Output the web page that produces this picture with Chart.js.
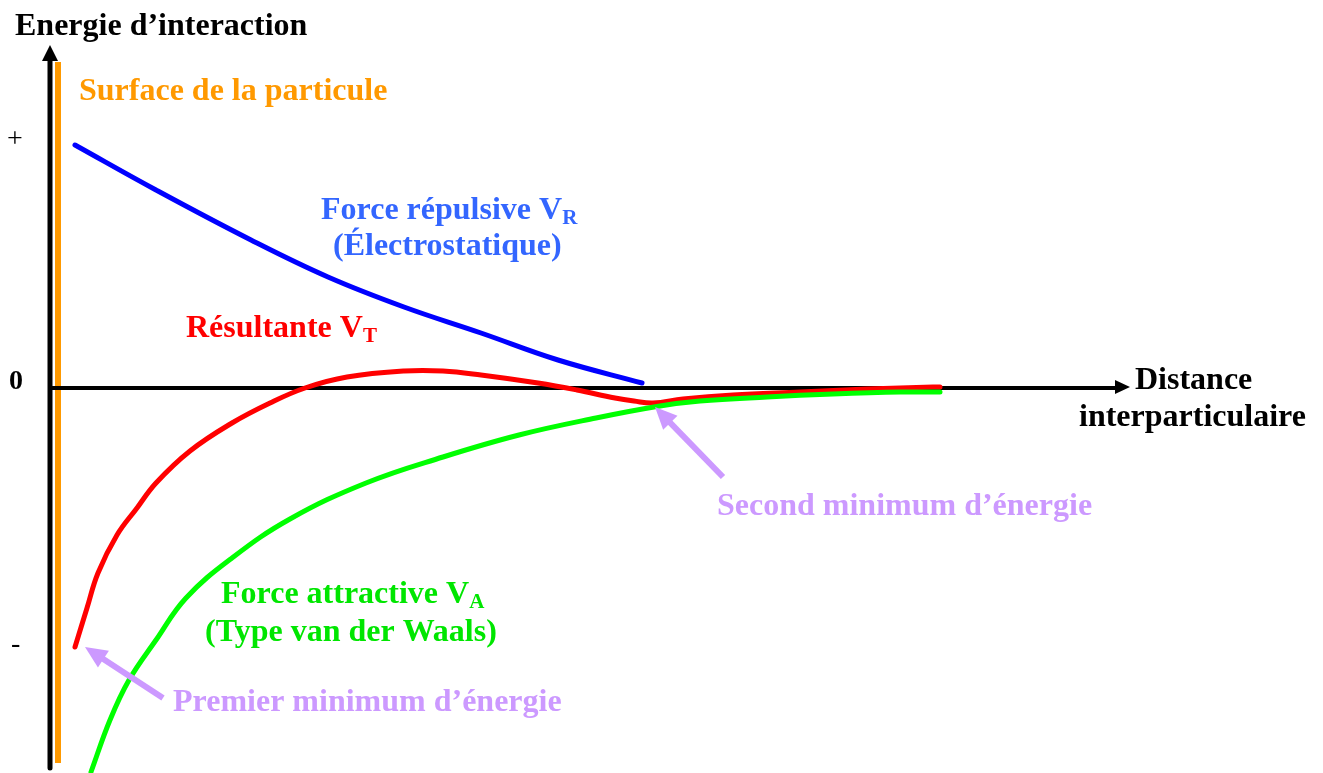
<!DOCTYPE html>
<html>
<head>
<meta charset="utf-8">
<script src="https://cdn.jsdelivr.net/npm/chart.js@4"></script>
<style>
  body { margin: 0; background: #fff; }
</style>
</head>
<body>
<canvas id="myChart" width="1323" height="773"></canvas>
<script>
// distance (arbitrary units) and energy readings for each curve
const repulsiveX = [0.25, 1.06, 2.01, 2.78, 3.54, 4.31, 5.08, 5.92];
const repulsiveY = [2.43, 1.98, 1.48, 1.11, 0.81, 0.55, 0.28, 0.05];

const resultX = [0.25, 0.37, 0.48, 0.67, 0.87, 1.06, 1.4, 1.82, 2.2, 2.55, 2.97, 3.54, 3.93, 4.31, 4.88, 5.27, 5.65, 5.84, 6.03, 6.33, 6.83, 7.5, 8.17, 8.83, 8.9];
const resultY = [-2.59, -2.2, -1.85, -1.47, -1.2, -0.95, -0.63, -0.35, -0.15, 0, 0.11, 0.17, 0.17, 0.13, 0.05, -0.02, -0.1, -0.13, -0.15, -0.11, -0.07, -0.04, -0.01, 0.01, 0.01];

const attractiveX = [0.41, 0.6, 0.79, 1.06, 1.36, 1.82, 2.4, 3.16, 3.93, 4.69, 5.46, 6.1, 6.5, 7.17, 7.83, 8.5, 8.9];
const attractiveY = [-3.84, -3.32, -2.92, -2.52, -2.1, -1.7, -1.31, -0.95, -0.69, -0.47, -0.3, -0.18, -0.13, -0.09, -0.06, -0.04, -0.04];

const toPoints = (xs, ys) => xs.map((x, i) => ({ x, y: ys[i] }));

const FONT = '"Liberation Serif", "Times New Roman", serif';
const SIZE = 32;

const drawArrowHead = (ctx, x1, y1, x2, y2, len, half) => {
  const a = Math.atan2(y2 - y1, x2 - x1);
  ctx.beginPath();
  ctx.moveTo(x2, y2);
  ctx.lineTo(x2 - len * Math.cos(a) + half * Math.sin(a), y2 - len * Math.sin(a) - half * Math.cos(a));
  ctx.lineTo(x2 - len * Math.cos(a) - half * Math.sin(a), y2 - len * Math.sin(a) + half * Math.cos(a));
  ctx.closePath();
  ctx.fill();
};

// text with an optional subscript after it, left aligned at x
const drawLabel = (ctx, text, sub, x, y, size, color) => {
  ctx.fillStyle = color;
  ctx.textAlign = 'left';
  ctx.textBaseline = 'middle';
  ctx.font = `bold ${size}px ${FONT}`;
  ctx.fillText(text, x, y);
  if (sub) {
    const w = ctx.measureText(text).width;
    ctx.font = `bold ${Math.round(size * 0.65)}px ${FONT}`;
    ctx.fillText(sub, x + w, y + size * 0.25);
  }
};

const diagramPlugin = {
  id: 'diagram',
  beforeDatasetsDraw(chart) {
    const { ctx } = chart;
    const xs = chart.scales.x;
    const ys = chart.scales.y;
    const x0 = xs.getPixelForValue(0);
    const y0 = ys.getPixelForValue(0);
    ctx.save();
    // particle surface
    ctx.strokeStyle = '#ff9900';
    ctx.lineWidth = 6;
    ctx.beginPath();
    ctx.moveTo(x0 + 8, ys.getPixelForValue(3.26));
    ctx.lineTo(x0 + 8, ys.getPixelForValue(-3.75));
    ctx.stroke();
    // energy axis
    ctx.strokeStyle = '#000';
    ctx.fillStyle = '#000';
    ctx.lineWidth = 5;
    ctx.lineCap = 'round';
    const yTop = ys.getPixelForValue(3.43);
    ctx.beginPath();
    ctx.moveTo(x0, ys.getPixelForValue(-3.8));
    ctx.lineTo(x0, yTop + 10);
    ctx.stroke();
    drawArrowHead(ctx, x0, yTop + 20, x0, yTop, 16, 8);
    // distance axis
    const xEnd = xs.getPixelForValue(10.8);
    ctx.lineWidth = 4;
    ctx.lineCap = 'butt';
    ctx.beginPath();
    ctx.moveTo(x0, y0);
    ctx.lineTo(xEnd - 10, y0);
    ctx.stroke();
    drawArrowHead(ctx, xEnd - 20, y0 - 1, xEnd, y0 - 1, 15, 7);
    ctx.restore();
  },
  afterDatasetsDraw(chart) {
    const { ctx } = chart;
    const xs = chart.scales.x;
    const ys = chart.scales.y;
    const px = (v) => xs.getPixelForValue(v);
    const py = (v) => ys.getPixelForValue(v);
    ctx.save();

    drawLabel(ctx, 'Energie d\u2019interaction', '', 15, 27, SIZE, '#000');
    drawLabel(ctx, 'Distance', '', 1135, 381, SIZE, '#000');
    drawLabel(ctx, 'interparticulaire', '', 1079, 418, SIZE, '#000');
    drawLabel(ctx, '0', '', 9, 382, 28, '#000');
    ctx.font = `28px ${FONT}`;
    ctx.fillText('+', 7, 140);
    ctx.fillText('-', 11, 645);

    drawLabel(ctx, 'Surface de la particule', '', 79, 92, SIZE, '#ff9900');
    drawLabel(ctx, 'Force r\u00e9pulsive V', 'R', 321, 211, SIZE, '#3366ff');
    drawLabel(ctx, '(\u00c9lectrostatique)', '', 333, 247, SIZE, '#3366ff');
    drawLabel(ctx, 'R\u00e9sultante V', 'T', 186, 329, SIZE, '#ff0000');
    drawLabel(ctx, 'Force attractive V', 'A', 221, 595, SIZE, '#00e600');
    drawLabel(ctx, '(Type van der Waals)', '', 205, 633, SIZE, '#00e600');
    drawLabel(ctx, 'Second minimum d\u2019\u00e9nergie', '', 717, 507, SIZE, '#cc99ff');
    drawLabel(ctx, 'Premier minimum d\u2019\u00e9nergie', '', 173, 703, SIZE, '#cc99ff');

    // pointers to the two minima
    const pointers = [
      [6.73, -0.89, 6.05, -0.19],
      [1.13, -3.1, 0.35, -2.59],
    ];
    ctx.strokeStyle = '#cc99ff';
    ctx.fillStyle = '#cc99ff';
    ctx.lineWidth = 6;
    pointers.forEach(([ax, ay, bx, by]) => {
      const x1 = px(ax);
      const y1 = py(ay);
      const x2 = px(bx);
      const y2 = py(by);
      const a = Math.atan2(y2 - y1, x2 - x1);
      ctx.beginPath();
      ctx.moveTo(x1, y1);
      ctx.lineTo(x2 - 14 * Math.cos(a), y2 - 14 * Math.sin(a));
      ctx.stroke();
      drawArrowHead(ctx, x1, y1, x2, y2, 22, 10);
    });
    ctx.restore();
  },
};

const curve = (data, color) => ({
  data,
  borderColor: color,
  borderWidth: 5,
  borderCapStyle: 'round',
  pointRadius: 0,
  tension: 0.4,
  fill: false,
  clip: false,
});

// eslint-disable-next-line no-new, no-undef
new Chart('myChart', {
  type: 'line',
  data: {
    datasets: [
      curve(toPoints(repulsiveX, repulsiveY), '#0000ff'),
      curve(toPoints(attractiveX, attractiveY), '#00ff00'),
      curve(toPoints(resultX, resultY), '#ff0000'),
    ],
  },
  options: {
    responsive: false,
    animation: false,
    devicePixelRatio: 1,
    layout: { padding: 0 },
    scales: {
      x: { type: 'linear', min: -0.5, max: 12.73, display: false },
      y: { min: -3.85, max: 3.88, display: false },
    },
    plugins: {
      legend: { display: false },
      tooltip: { enabled: false },
    },
  },
  plugins: [diagramPlugin],
});
</script>
</body>
</html>
